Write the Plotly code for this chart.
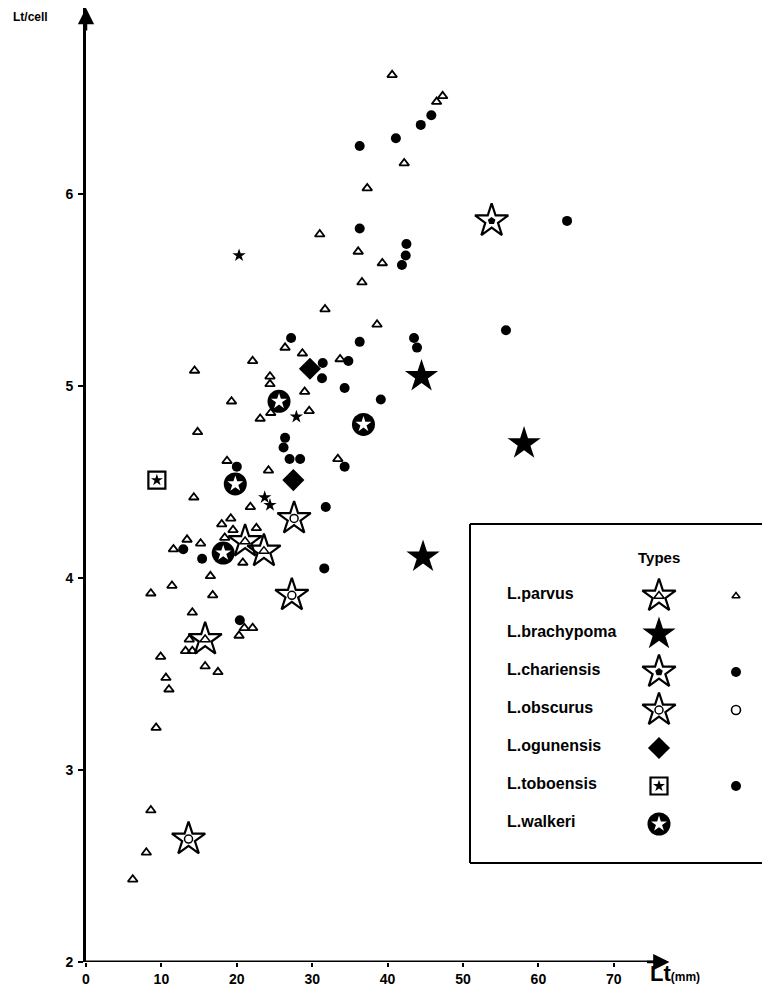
import plotly.graph_objects as go

# The page body adds an 8px margin, so the figure is sized/offset to fit the 770x987 window.
OFF = 8
VW, VH = 770, 987                     # window size
W, H = VW - OFF, VH - OFF             # figure size
L, R, T, B = 86 - OFF, 0, 0, 25
PW, PH = W - L - R, H - T - B
XPX = 7.54                            # px per mm on the original
YPX = 192.0                           # px per Lt/cell unit on the original
XMAX = PW / XPX
YMIN = 2.0
YMAX = YMIN + PH / YPX

# ---------------- data ----------------
# small open triangles : L.parvus specimens
parvus_x = [18.7, 24.2, 33.4, 14.3, 21.8, 19.2, 18.0, 19.5, 22.6, 18.4, 13.4, 15.2, 11.6, 20.8,
            16.5, 8.6, 11.4, 16.8, 14.1, 13.7, 13.2, 14.1, 9.9, 15.8, 17.5, 10.6, 11.0, 9.3,
            20.3, 21.0, 22.1, 8.6, 8.0, 6.2,
            40.6, 42.2, 37.3, 31.0, 36.1, 39.3, 36.6, 31.7, 38.6, 26.4, 28.7, 22.1, 33.7, 14.4,
            24.4, 24.4, 29.0, 19.3, 24.5, 23.1, 29.6, 14.8, 47.3, 46.5]
parvus_y = [4.61, 4.56, 4.62, 4.42, 4.37, 4.31, 4.28, 4.25, 4.26, 4.21, 4.20, 4.18, 4.15, 4.08,
            4.01, 3.92, 3.96, 3.91, 3.82, 3.68, 3.62, 3.62, 3.59, 3.54, 3.51, 3.48, 3.42, 3.22,
            3.70, 3.74, 3.74, 2.79, 2.57, 2.43,
            6.62, 6.16, 6.03, 5.79, 5.70, 5.64, 5.54, 5.40, 5.32, 5.20, 5.17, 5.13, 5.14, 5.08,
            5.05, 5.01, 4.97, 4.92, 4.86, 4.83, 4.87, 4.76, 6.51, 6.48]

# black dots : L.chariensis specimens
char_x = [20.0, 26.4, 26.2, 27.0, 28.4, 31.8, 12.9, 15.4, 20.4, 31.6, 34.3,
          45.8, 44.4, 63.8, 42.5, 42.4, 41.9, 55.7, 43.5, 43.9,
          41.1, 36.3, 36.3, 27.2, 36.3, 34.8, 31.4, 31.3, 34.3, 39.1]
char_y = [4.58, 4.73, 4.68, 4.62, 4.62, 4.37, 4.15, 4.10, 3.78, 4.05, 4.58,
          6.41, 6.36, 5.86, 5.74, 5.68, 5.63, 5.29, 5.25, 5.20,
          6.29, 6.25, 5.82, 5.25, 5.23, 5.13, 5.12, 5.04, 4.99, 4.93]

# small black stars
tob_x = [20.3, 23.7, 24.4, 27.9]
tob_y = [5.68, 4.42, 4.38, 4.84]

# type specimens
type_parvus_x = [21.1, 23.6, 15.8]
type_parvus_y = [4.19, 4.14, 3.68]
type_obscurus_x = [27.6, 27.3, 13.6]
type_obscurus_y = [4.31, 3.91, 2.64]
type_chariensis_x = [53.8]
type_chariensis_y = [5.86]
type_brachy_x = [44.5, 44.7, 58.1]
type_brachy_y = [5.05, 4.11, 4.70]
type_ogun_x = [29.7, 27.5]
type_ogun_y = [5.09, 4.51]
type_tob_x = [9.4]
type_tob_y = [4.51]
type_walkeri_x = [19.8, 18.2, 25.6, 36.8]
type_walkeri_y = [4.49, 4.13, 4.92, 4.80]

x_ticks = [0, 10, 20, 30, 40, 50, 60, 70]
y_ticks = [2, 3, 4, 5, 6]

legend_names = ["L.parvus", "L.brachypoma", "L.chariensis", "L.obscurus",
                "L.ogunensis", "L.toboensis", "L.walkeri"]
legend_type = ["parvus_type", "brachy", "chariensis_type", "obscurus_type",
               "ogun", "tob_type", "walkeri"]
legend_small = ["tri_small", None, "dot", "open_dot", None, "dot", None]

# ---------------- marker styles ----------------
BL = "black"
STYLES = {
    "parvus_type": [dict(symbol="star-open", size=25, color=BL, line=dict(width=2.2, color=BL)),
                    dict(symbol="triangle-up-open", size=9, color=BL, line=dict(width=1.5, color=BL))],
    "obscurus_type": [dict(symbol="star-open", size=25, color=BL, line=dict(width=2.2, color=BL)),
                      dict(symbol="circle-open", size=8, color=BL, line=dict(width=1.5, color=BL))],
    "chariensis_type": [dict(symbol="star-open", size=25, color=BL, line=dict(width=2.2, color=BL)),
                        dict(symbol="pentagon", size=8, color=BL, line=dict(width=0))],
    "brachy": [dict(symbol="star", size=25, color=BL, line=dict(width=0))],
    "ogun": [dict(symbol="diamond", size=17, color=BL, line=dict(width=0))],
    "tob_type": [dict(symbol="square-open", size=17, color=BL, line=dict(width=2.2, color=BL)),
                 dict(symbol="star", size=9, color=BL, line=dict(width=0))],
    "walkeri": [dict(symbol="circle", size=23, color=BL, line=dict(width=0)),
                dict(symbol="star", size=12, color="white", line=dict(width=0))],
    "tri": [dict(symbol="triangle-up-open", size=8.5, color=BL, line=dict(width=1.8, color=BL))],
    "tri_small": [dict(symbol="triangle-up-open", size=7, color=BL, line=dict(width=1.6, color=BL))],
    "dot": [dict(symbol="circle", size=10, color=BL, line=dict(width=0))],
    "open_dot": [dict(symbol="circle-open", size=9, color=BL, line=dict(width=1.6, color=BL))],
    "small_star": [dict(symbol="star", size=10, color=BL, line=dict(width=0))],
}

fig = go.Figure()


def add_points(xs, ys, kind, xaxis="x", yaxis="y"):
    for mk in STYLES[kind]:
        fig.add_trace(go.Scatter(x=xs, y=ys, mode="markers", marker=mk, xaxis=xaxis, yaxis=yaxis,
                                 showlegend=False, hoverinfo="skip", cliponaxis=False))


add_points(parvus_x, parvus_y, "tri")
add_points(char_x, char_y, "dot")
add_points(tob_x, tob_y, "small_star")
add_points(type_parvus_x, type_parvus_y, "parvus_type")
add_points(type_obscurus_x, type_obscurus_y, "obscurus_type")
add_points(type_chariensis_x, type_chariensis_y, "chariensis_type")
add_points(type_brachy_x, type_brachy_y, "brachy")
add_points(type_ogun_x, type_ogun_y, "ogun")
add_points(type_tob_x, type_tob_y, "tob_type")
add_points(type_walkeri_x, type_walkeri_y, "walkeri")


# helpers: window pixel -> paper fraction
def ppx(vx):
    return (vx - OFF - L) / PW


def ppy(vy):
    return (T + PH - (vy - OFF)) / PH


# ---------------- legend panel (own axes in window-pixel units) ----------------
BOX_L, BOX_T, BOX_B = 469, 524, 863
ROW0, ROWSTEP = 596, 38
SYM_X, SMALL_X, TXT_X = 659, 736, 505
PAD = 4

for i, name in enumerate(legend_names):
    ry = ROW0 + ROWSTEP * i
    add_points([SYM_X], [ry], legend_type[i], "x2", "y2")
    if legend_small[i]:
        add_points([SMALL_X], [ry], legend_small[i], "x2", "y2")
    fig.add_annotation(x=TXT_X, y=ry - 3, xref="x2", yref="y2", text=name, showarrow=False,
                       xanchor="left", yanchor="middle",
                       font=dict(family="Liberation Sans", size=16, color=BL, weight="bold"))

fig.add_annotation(x=SYM_X, y=557, xref="x2", yref="y2", text="Types", showarrow=False,
                   xanchor="center", yanchor="middle",
                   font=dict(family="Liberation Sans", size=15, color=BL, weight="bold"))

# box drawn as three sides: its right side lies outside the window in the original
for (x0, y0, x1, y1) in [(BOX_L + 1, BOX_T, VW + 5, BOX_T),
                         (BOX_L + 1, BOX_T, BOX_L + 1, BOX_B),
                         (BOX_L + 1, BOX_B, VW + 5, BOX_B)]:
    fig.add_shape(type="line", xref="x2", yref="y2", x0=x0, y0=y0, x1=x1, y1=y1,
                  line=dict(color=BL, width=2))

# ---------------- axes decorations ----------------
fig.add_shape(type="line", xref="x", yref="y", x0=0, x1=XMAX * 0.848, y0=YMIN, y1=YMIN,
              line=dict(color=BL, width=3))
fig.add_annotation(x=XMAX * 0.853, y=YMIN, xref="x", yref="y", ax=-24, ay=0, text="",
                   showarrow=True, arrowhead=2, arrowsize=1.3, arrowwidth=2.5, arrowcolor=BL)
fig.add_annotation(x=0, y=YMAX, xref="x", yref="y", ax=0, ay=24, text="",
                   showarrow=True, arrowhead=2, arrowsize=1.3, arrowwidth=2.5, arrowcolor=BL)

fig.add_annotation(x=ppx(11), y=ppy(17), xref="paper", yref="paper", text="Lt/cell",
                   showarrow=False, xanchor="left", yanchor="middle",
                   font=dict(family="Liberation Sans", size=12, color=BL, weight="bold"))
fig.add_annotation(x=ppx(648), y=ppy(988), xref="paper", yref="paper",
                   text="<b>Lt</b><span style='font-size:12px;font-weight:bold'>(mm)</span>",
                   showarrow=False, xanchor="left", yanchor="bottom",
                   font=dict(family="Liberation Sans", size=22, color=BL))

fig.update_layout(
    width=W, height=H,
    margin=dict(l=L, r=R, t=T, b=B, pad=0, autoexpand=False),
    paper_bgcolor="white", plot_bgcolor="white",
    showlegend=False,
    xaxis=dict(range=[0, XMAX], tickvals=x_ticks, ticks="outside", ticklen=4, tickwidth=2,
               tickcolor=BL, showline=False, showgrid=False, zeroline=False,
               tickfont=dict(family="Liberation Sans", size=14, color=BL, weight="bold"),
               fixedrange=True),
    yaxis=dict(range=[YMIN, YMAX], tickvals=y_ticks, ticks="outside", ticklen=5, tickwidth=2,
               tickcolor=BL, showline=True, linewidth=3, linecolor=BL, showgrid=False,
               zeroline=False, ticklabelstandoff=2,
               tickfont=dict(family="Liberation Sans", size=14, color=BL, weight="bold"),
               fixedrange=True),
    xaxis2=dict(domain=[ppx(BOX_L), 1], range=[BOX_L, VW], anchor="y2",
                visible=False, fixedrange=True),
    yaxis2=dict(domain=[ppy(BOX_B + PAD), ppy(BOX_T - PAD)], range=[BOX_B + PAD, BOX_T - PAD],
                anchor="x2", visible=False, fixedrange=True),
)

fig.write_html("out.html")
